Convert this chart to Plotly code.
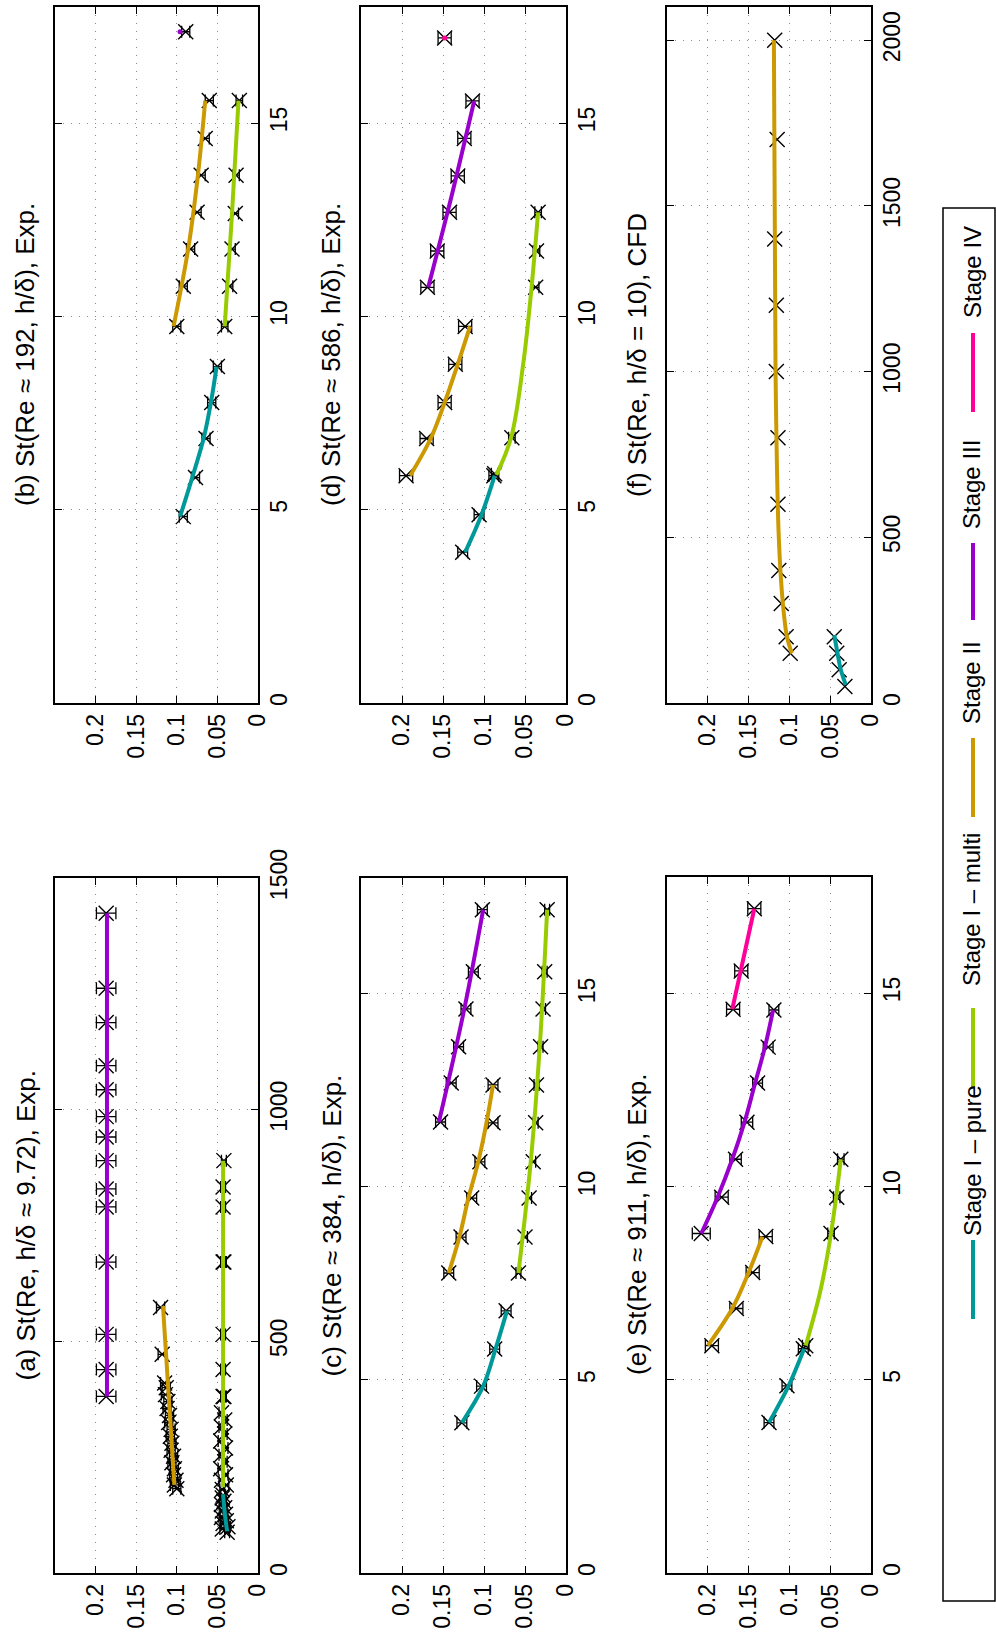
import plotly.graph_objects as go

W, H = 996, 1641
TEAL = "#009999"; GREEN = "#99cc00"; ORANGE = "#cc9900"; PURPLE = "#9900cc"; PINK = "#ff0099"
FONT = "Liberation Sans, Arial, sans-serif"

# ---------------- data ----------------
# (a) St(Re, h/delta ~ 9.72), Exp.
a_teal_re = [88, 95, 100, 107, 113, 120, 127, 134, 141, 148, 155, 162, 168]
a_teal_st = [0.038, 0.044, 0.037, 0.043, 0.039, 0.045, 0.040, 0.044, 0.041, 0.045, 0.042, 0.044, 0.043]
a_teal_err = [0.003] * 13
a_teal_fit_re = [90, 130, 170]
a_teal_fit_st = [0.038, 0.041, 0.043]

a_green_re = [180, 190, 200, 212, 225, 240, 255, 270, 285, 300, 315, 330, 346, 381, 381, 439, 515, 671, 671, 790, 833, 890]
a_green_st = [0.044, 0.039, 0.045, 0.040, 0.046, 0.041, 0.045, 0.040, 0.046, 0.041, 0.045, 0.041, 0.045, 0.043, 0.042, 0.043, 0.043, 0.043, 0.042, 0.043, 0.043, 0.042]
a_green_err = [0.003] * 22
a_green_fit_re = [185, 890]
a_green_fit_st = [0.043, 0.043]

a_orange_re = [182, 190, 200, 212, 225, 238, 252, 265, 280, 295, 310, 325, 340, 355, 370, 385, 400, 410, 472, 573]
a_orange_st = [0.100, 0.103, 0.101, 0.104, 0.103, 0.106, 0.104, 0.107, 0.106, 0.108, 0.107, 0.110, 0.109, 0.112, 0.111, 0.114, 0.113, 0.115, 0.118, 0.120]
a_orange_err = [0.005] * 20
a_orange_fit_re = [190, 576]
a_orange_fit_st = [0.103, 0.117]

a_purple_re = [381, 439, 515, 671, 790, 829, 890, 941, 985, 1043, 1095, 1188, 1262, 1424]
a_purple_st = [0.187] * 14
a_purple_err = [0.012] * 14
a_purple_fit_re = [381, 1424]
a_purple_fit_st = [0.186, 0.186]

# (b) St(Re ~ 192, h/delta), Exp.
b_teal_h = [4.82, 5.83, 6.84, 7.77, 8.70]
b_teal_st = [0.092, 0.077, 0.064, 0.057, 0.050]
b_teal_err = [0.005] * 5
b_teal_fit_h = [4.82, 5.83, 6.84, 7.77, 8.70]
b_teal_fit_st = [0.096, 0.081, 0.067, 0.058, 0.051]

b_green_h = [9.74, 10.78, 11.74, 12.66, 13.65, 15.58]
b_green_st = [0.041, 0.035, 0.032, 0.028, 0.027, 0.023]
b_green_err = [0.004] * 6
b_green_fit_h = [9.74, 12.66, 15.58]
b_green_fit_st = [0.041, 0.032, 0.024]

b_orange_h = [9.74, 10.78, 11.74, 12.69, 13.65, 14.6, 15.58]
b_orange_st = [0.100, 0.092, 0.083, 0.075, 0.070, 0.065, 0.060]
b_orange_err = [0.005] * 7
b_orange_fit_h = [9.74, 11.74, 13.65, 15.58]
b_orange_fit_st = [0.104, 0.086, 0.074, 0.065]

b_purple_h = [17.36]
b_purple_st = [0.089]
b_purple_err = [0.005]
b_purple_fit_h = [17.36]
b_purple_fit_st = [0.096]

# (c) St(Re ~ 384, h/delta), Exp.
c_teal_h = [3.89, 4.84, 5.80, 6.79]
c_teal_st = [0.127, 0.103, 0.087, 0.073]
c_teal_err = [0.006] * 4
c_teal_fit_h = [3.89, 4.84, 5.80, 6.79]
c_teal_fit_st = [0.127, 0.101, 0.086, 0.072]

c_green_h = [7.77, 8.70, 9.71, 10.65, 11.66, 12.64, 13.63, 14.61, 15.57, 17.18]
c_green_st = [0.058, 0.050, 0.045, 0.040, 0.037, 0.036, 0.031, 0.028, 0.026, 0.023]
c_green_err = [0.003] * 10
c_green_fit_h = [7.77, 10.65, 13.63, 17.18]
c_green_fit_st = [0.058, 0.043, 0.032, 0.023]

c_orange_h = [7.77, 8.70, 9.71, 10.65, 11.66, 12.64]
c_orange_st = [0.143, 0.128, 0.115, 0.105, 0.089, 0.089]
c_orange_err = [0.006] * 6
c_orange_fit_h = [7.77, 8.70, 9.71, 10.65, 11.66, 12.64]
c_orange_fit_st = [0.143, 0.130, 0.119, 0.107, 0.097, 0.089]

c_purple_h = [11.68, 12.69, 13.63, 14.61, 15.57, 17.18]
c_purple_st = [0.153, 0.140, 0.131, 0.122, 0.113, 0.102]
c_purple_err = [0.006] * 6
c_purple_fit_h = [11.68, 14.61, 17.18]
c_purple_fit_st = [0.155, 0.124, 0.101]

# (d) St(Re ~ 586, h/delta), Exp.
d_teal_h = [3.90, 4.87, 5.88]
d_teal_st = [0.126, 0.106, 0.088]
d_teal_err = [0.006] * 3
d_teal_fit_h = [3.90, 4.87, 5.88]
d_teal_fit_st = [0.123, 0.103, 0.087]

d_green_h = [5.93, 6.86, 10.75, 11.69, 12.69]
d_green_st = [0.087, 0.066, 0.037, 0.036, 0.034]
d_green_err = [0.004] * 5
d_green_fit_h = [5.90, 6.86, 8.80, 10.75, 12.69]
d_green_fit_st = [0.085, 0.067, 0.052, 0.042, 0.034]

d_orange_h = [5.88, 6.84, 7.77, 8.76, 9.74]
d_orange_st = [0.195, 0.170, 0.148, 0.135, 0.123]
d_orange_err = [0.008] * 5
d_orange_fit_h = [5.88, 6.84, 7.77, 8.76, 9.74]
d_orange_fit_st = [0.190, 0.165, 0.148, 0.132, 0.117]

d_purple_h = [10.75, 11.69, 12.69, 13.63, 14.6, 15.57]
d_purple_st = [0.169, 0.157, 0.142, 0.132, 0.124, 0.114]
d_purple_err = [0.008] * 6
d_purple_fit_h = [10.75, 13.16, 15.57]
d_purple_fit_st = [0.168, 0.139, 0.112]

d_pink_h = [17.2]
d_pink_st = [0.148]
d_pink_err = [0.008]
d_pink_fit_h = [17.2]
d_pink_fit_st = [0.148]

# (e) St(Re ~ 911, h/delta), Exp.
e_teal_h = [3.89, 4.84, 5.80]
e_teal_st = [0.125, 0.103, 0.083]
e_teal_err = [0.006] * 3
e_teal_fit_h = [3.89, 4.84, 5.80]
e_teal_fit_st = [0.125, 0.101, 0.082]

e_green_h = [5.88, 8.78, 9.72, 10.70]
e_green_st = [0.080, 0.049, 0.042, 0.037]
e_green_err = [0.004] * 4
e_green_fit_h = [5.88, 7.30, 8.78, 10.70]
e_green_fit_st = [0.080, 0.062, 0.049, 0.037]

e_orange_h = [5.88, 6.84, 7.77, 8.70]
e_orange_st = [0.195, 0.165, 0.145, 0.129]
e_orange_err = [0.008] * 4
e_orange_fit_h = [5.88, 6.84, 7.77, 8.70]
e_orange_fit_st = [0.200, 0.170, 0.150, 0.133]

e_purple_h = [8.78, 9.72, 10.70, 11.66, 12.67, 13.60, 14.56]
e_purple_st = [0.208, 0.183, 0.166, 0.152, 0.139, 0.126, 0.119]
e_purple_err = [0.011, 0.008, 0.007, 0.007, 0.006, 0.006, 0.006]
e_purple_fit_h = [8.78, 9.72, 10.70, 11.66, 12.67, 13.60, 14.56]
e_purple_fit_st = [0.208, 0.188, 0.170, 0.155, 0.142, 0.130, 0.120]

e_pink_h = [14.58, 15.57, 17.18]
e_pink_st = [0.169, 0.159, 0.143]
e_pink_err = [0.008] * 3
e_pink_fit_h = [14.58, 17.18]
e_pink_fit_st = [0.170, 0.143]

# (f) St(Re, h/delta = 10), CFD
f_teal_re = [50, 100, 150, 200]
f_teal_st = [0.032, 0.039, 0.042, 0.045]
f_teal_fit_re = [55, 100, 150, 205]
f_teal_fit_st = [0.031, 0.037, 0.041, 0.045]

f_orange_re = [150, 200, 300, 400, 600, 800, 1000, 1200, 1400, 1700, 2000]
f_orange_st = [0.099, 0.104, 0.110, 0.113, 0.114, 0.114, 0.116, 0.116, 0.118, 0.115, 0.118]
f_orange_fit_re = [150, 200, 300, 500, 1000, 1500, 2000]
f_orange_fit_st = [0.097, 0.103, 0.108, 0.113, 0.117, 0.118, 0.119]

# axis ticks
st_ticks = [0, 0.05, 0.1, 0.15, 0.2]
st_ticktext = ["0", "0.05", "0.1", "0.15", "0.2"]
re_ticks_a = [0, 500, 1000, 1500]
h_ticks = [0, 5, 10, 15]
re_ticks_f = [0, 500, 1000, 1500, 2000]

titles = ["(a) St(Re, h/δ ≈ 9.72), Exp.", "(b) St(Re ≈ 192, h/δ), Exp.",
          "(c) St(Re ≈ 384, h/δ), Exp.", "(d) St(Re ≈ 586, h/δ), Exp.",
          "(e) St(Re ≈ 911, h/δ), Exp.", "(f) St(Re, h/δ = 10), CFD"]
legend_names = ["Stage I – pure", "Stage I – multi", "Stage II", "Stage III", "Stage IV"]
legend_colors = [TEAL, GREEN, ORANGE, PURPLE, PINK]

# ---------------- layout geometry (pixels) ----------------
# panel boxes: left, right, top, bottom
boxes = [(55, 258, 878, 1573), (55, 258, 7, 703),
         (361, 566, 878, 1573), (361, 566, 7, 703),
         (667, 871, 877, 1573), (667, 871, 7, 703)]
yranges = [[0, 1500], [0, 18], [0, 18], [0, 18], [0, 18], [0, 2100]]
yticks = [re_ticks_a, h_ticks, h_ticks, h_ticks, h_ticks, re_ticks_f]

def px(x):
    return x / W

def py(y):
    return 1 - y / H

fig = go.Figure()

def add_pts(i, yv, st, err, color):
    xa = "x" if i == 0 else f"x{i+1}"
    ya = "y" if i == 0 else f"y{i+1}"
    kw = {}
    if err is not None:
        kw["error_x"] = dict(type="data", array=err, color="black", thickness=1.3, width=6)
    fig.add_trace(go.Scatter(x=st, y=yv, mode="markers", xaxis=xa, yaxis=ya,
                             marker=dict(symbol="x-thin", size=15, color="black",
                                         line=dict(width=1.4, color="black")),
                             showlegend=False, **kw))

def add_fit(i, yv, st, color):
    xa = "x" if i == 0 else f"x{i+1}"
    ya = "y" if i == 0 else f"y{i+1}"
    if len(yv) == 1:
        fig.add_trace(go.Scatter(x=st, y=yv, mode="markers", xaxis=xa, yaxis=ya,
                                 marker=dict(symbol="circle", size=5, color=color),
                                 showlegend=False))
    else:
        fig.add_trace(go.Scatter(x=st, y=yv, mode="lines", xaxis=xa, yaxis=ya,
                                 line=dict(color=color, width=4, shape="spline"),
                                 showlegend=False))

panels = [
    [(a_teal_re, a_teal_st, a_teal_err, a_teal_fit_re, a_teal_fit_st, TEAL),
     (a_green_re, a_green_st, a_green_err, a_green_fit_re, a_green_fit_st, GREEN),
     (a_orange_re, a_orange_st, a_orange_err, a_orange_fit_re, a_orange_fit_st, ORANGE),
     (a_purple_re, a_purple_st, a_purple_err, a_purple_fit_re, a_purple_fit_st, PURPLE)],
    [(b_teal_h, b_teal_st, b_teal_err, b_teal_fit_h, b_teal_fit_st, TEAL),
     (b_green_h, b_green_st, b_green_err, b_green_fit_h, b_green_fit_st, GREEN),
     (b_orange_h, b_orange_st, b_orange_err, b_orange_fit_h, b_orange_fit_st, ORANGE),
     (b_purple_h, b_purple_st, b_purple_err, b_purple_fit_h, b_purple_fit_st, PURPLE)],
    [(c_teal_h, c_teal_st, c_teal_err, c_teal_fit_h, c_teal_fit_st, TEAL),
     (c_green_h, c_green_st, c_green_err, c_green_fit_h, c_green_fit_st, GREEN),
     (c_orange_h, c_orange_st, c_orange_err, c_orange_fit_h, c_orange_fit_st, ORANGE),
     (c_purple_h, c_purple_st, c_purple_err, c_purple_fit_h, c_purple_fit_st, PURPLE)],
    [(d_teal_h, d_teal_st, d_teal_err, d_teal_fit_h, d_teal_fit_st, TEAL),
     (d_green_h, d_green_st, d_green_err, d_green_fit_h, d_green_fit_st, GREEN),
     (d_orange_h, d_orange_st, d_orange_err, d_orange_fit_h, d_orange_fit_st, ORANGE),
     (d_purple_h, d_purple_st, d_purple_err, d_purple_fit_h, d_purple_fit_st, PURPLE),
     (d_pink_h, d_pink_st, d_pink_err, d_pink_fit_h, d_pink_fit_st, PINK)],
    [(e_teal_h, e_teal_st, e_teal_err, e_teal_fit_h, e_teal_fit_st, TEAL),
     (e_green_h, e_green_st, e_green_err, e_green_fit_h, e_green_fit_st, GREEN),
     (e_orange_h, e_orange_st, e_orange_err, e_orange_fit_h, e_orange_fit_st, ORANGE),
     (e_purple_h, e_purple_st, e_purple_err, e_purple_fit_h, e_purple_fit_st, PURPLE),
     (e_pink_h, e_pink_st, e_pink_err, e_pink_fit_h, e_pink_fit_st, PINK)],
    [(f_teal_re, f_teal_st, None, f_teal_fit_re, f_teal_fit_st, TEAL),
     (f_orange_re, f_orange_st, None, f_orange_fit_re, f_orange_fit_st, ORANGE)],
]

for i, series in enumerate(panels):
    for (yv, st, err, fy, fst, col) in series:
        add_pts(i, yv, st, err, col)
    for (yv, st, err, fy, fst, col) in series:
        add_fit(i, fy, fst, col)

layout = dict(width=W, height=H, margin=dict(l=0, r=0, t=0, b=0, autoexpand=False),
              autosize=False, template="none",
              paper_bgcolor="white", plot_bgcolor="white", showlegend=False,
              font=dict(family=FONT, color="black"))
annotations = []
shapes = []
for i, (l, r, t, b) in enumerate(boxes):
    sx = "" if i == 0 else str(i + 1)
    layout["xaxis" + sx] = dict(
        domain=[px(l), px(r)], anchor="y" + sx, range=[0.25, 0], automargin=False,
        tickvals=st_ticks, ticktext=st_ticktext, tickangle=-90,
        ticks="inside", ticklen=7, tickwidth=1.2, tickcolor="black",
        showline=True, linecolor="black", linewidth=1.5, mirror="ticks",
        showgrid=True, gridcolor="#8c8c8c", gridwidth=1, griddash="1px,7px",
        zeroline=False, tickfont=dict(size=23, family=FONT, color="black"),
        fixedrange=True)
    layout["yaxis" + sx] = dict(
        domain=[py(b), py(t)], anchor="x" + sx, range=yranges[i], side="right",
        automargin=False, tickvals=yticks[i], tickangle=-90,
        ticks="inside", ticklen=7, tickwidth=1.2, tickcolor="black",
        showline=True, linecolor="black", linewidth=1.5, mirror="ticks",
        showgrid=True, gridcolor="#8c8c8c", gridwidth=1, griddash="1px,7px",
        zeroline=False, tickfont=dict(size=23, family=FONT, color="black"),
        fixedrange=True)
    annotations.append(dict(text=titles[i], xref="paper", yref="paper",
                            x=px(l - 30), y=py((t + b) / 2), showarrow=False,
                            textangle=-90, xanchor="center", yanchor="middle",
                            font=dict(size=26, family=FONT, color="black")))

# legend (rotated, drawn by hand)
shapes.append(dict(type="rect", xref="paper", yref="paper",
                   x0=px(943), x1=px(995), y0=py(1601), y1=py(208),
                   line=dict(color="black", width=1.5), fillcolor="rgba(0,0,0,0)"))
leg_line = [(1240, 1319), (1008, 1087), (738, 817), (543, 620), (333, 412)]
leg_text = [1161, 910, 683, 485, 272]
for name, col, (y0, y1), yt in zip(legend_names, legend_colors, leg_line, leg_text):
    shapes.append(dict(type="line", xref="paper", yref="paper",
                       x0=px(973), x1=px(973), y0=py(y0), y1=py(y1),
                       line=dict(color=col, width=4)))
    annotations.append(dict(text=name, xref="paper", yref="paper",
                            x=px(972), y=py(yt), showarrow=False, textangle=-90,
                            xanchor="center", yanchor="middle",
                            font=dict(size=24, family=FONT, color="black")))

layout["annotations"] = annotations
layout["shapes"] = shapes
fig.update_layout(**layout)
fig.write_html("out.html")
